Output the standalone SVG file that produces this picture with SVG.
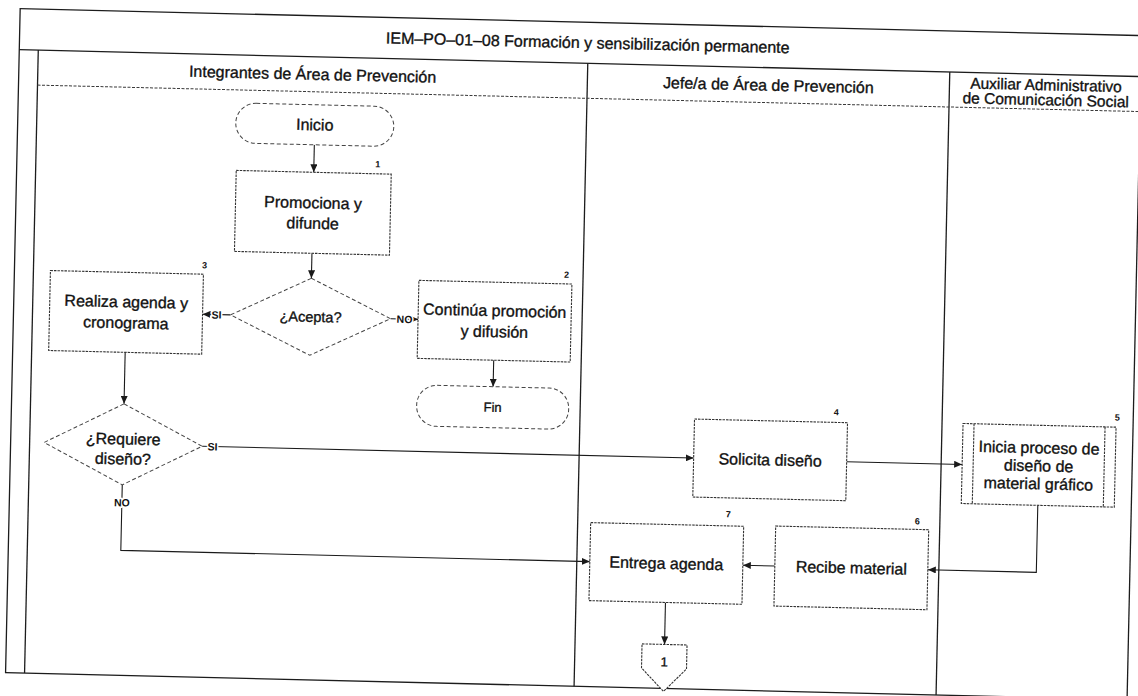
<svg xmlns="http://www.w3.org/2000/svg" width="1138" height="696" viewBox="0 0 1138 696">
  <defs>
    <marker id="arr" viewBox="0 0 8 7" markerWidth="8" markerHeight="7" refX="8" refY="3.5" orient="auto" markerUnits="userSpaceOnUse">
      <path d="M0,0 L8,3.5 L0,7 Z" fill="#1a1a1a"/>
    </marker>
    <style>
      .frame { fill: none; stroke: #1c1c1c; stroke-width: 1.3; }
      .hsep { fill: none; stroke: #3a3a3a; stroke-width: 1; stroke-dasharray: 3 1.5; }
      .box { fill: #fff; stroke: #333; stroke-width: 1.1; stroke-dasharray: 2.5 1; }
      .dash { fill: #fff; stroke: #444; stroke-width: 1; stroke-dasharray: 4 2.5; }
      .conn { fill: none; stroke: #1a1a1a; stroke-width: 1.1; marker-end: url(#arr); }
      text { font-family: "Liberation Sans", Arial, sans-serif; fill: #111; text-anchor: middle; }
      .t, .hd { font-size: 16px; stroke: #111; stroke-width: 0.35px; }
      .lbl { font-size: 10.5px; font-weight: bold; paint-order: stroke; stroke: #fff; stroke-width: 3px; }
      .num { font-size: 9px; font-weight: bold; }
    </style>
  </defs>

  <rect width="1138" height="696" fill="#fff"/>

  <!-- whole sheet, slightly skewed as on the scanned page -->
  <g transform="matrix(1 0.024 -0.022 1 7.66 -13.66)">

    <!-- table frame -->
    <g id="frame">
      <rect class="frame" x="13" y="22" width="1140" height="664"/>
      <line class="frame" x1="13" y1="63" x2="1153" y2="63"/>
      <line class="frame" x1="32" y1="63" x2="32" y2="686"/>
      <line class="frame" x1="581.5" y1="63" x2="581.5" y2="686"/>
      <line class="frame" x1="943.5" y1="63" x2="943.5" y2="686"/>
      <line class="frame" x1="1134.5" y1="63" x2="1134.5" y2="686"/>
      <line class="hsep" x1="32" y1="98" x2="1134.5" y2="98"/>
      <text class="hd" x="581" y="48">IEM–PO–01–08 Formación y sensibilización permanente</text>
    </g>

    <!-- swimlane headers -->
    <g id="lane-integrantes">
      <text class="hd" x="306.75" y="86">Integrantes de Área de Prevención</text>
    </g>
    <g id="lane-jefe">
      <text class="hd" x="762.5" y="86">Jefe/a de Área de Prevención</text>
    </g>
    <g id="lane-auxiliar">
      <text class="hd" x="1040" y="79" style="font-size:15.5px">Auxiliar Administrativo</text>
      <text class="hd" x="1040" y="94" style="font-size:15.5px">de Comunicación Social</text>
    </g>

    <!-- connectors -->
    <g id="connectors">
      <path class="conn" d="M310,151 V178.5"/>
      <path class="conn" d="M310,259.5 V284.5"/>
      <path class="conn" d="M230,323 H202"/>
      <path class="conn" d="M390,323 H417.5"/>
      <path class="conn" d="M494,362 V388.5"/>
      <path class="conn" d="M125.5,363 V414.5"/>
      <path class="conn" d="M204.5,455 H696"/>
      <path class="conn" d="M125.5,495.5 V561 H594.5"/>
      <path class="conn" d="M849,455 H964.5"/>
      <path class="conn" d="M1041,494 V561 H932.5"/>
      <path class="conn" d="M779.5,561 H747.5"/>
      <path class="conn" d="M671,600 V642"/>
      <text class="lbl" x="216" y="327">SI</text>
      <text class="lbl" x="404" y="327">NO</text>
      <text class="lbl" x="215" y="459">SI</text>
      <text class="lbl" x="125.5" y="517">NO</text>
    </g>

    <!-- nodes -->
    <g id="inicio">
      <rect class="dash" x="231" y="111" width="158" height="40" rx="20"/>
      <text class="t" x="310" y="136.5">Inicio</text>
    </g>
    <g id="paso-1">
      <rect class="box" x="232.5" y="178.5" width="155" height="81"/>
      <text class="num" x="374" y="172">1</text>
      <text class="t" x="310" y="214.5">Promociona y</text>
      <text class="t" x="310" y="235">difunde</text>
    </g>
    <g id="acepta">
      <polygon class="dash" points="310,284.5 390,323 310,361.5 230,323"/>
      <text class="t" x="310" y="328" style="font-size:14.5px">¿Acepta?</text>
    </g>
    <g id="paso-2">
      <rect class="box" x="417.5" y="284" width="153" height="78"/>
      <text class="num" x="565" y="278">2</text>
      <text class="t" x="494" y="318">Continúa promoción</text>
      <text class="t" x="494" y="339">y difusión</text>
    </g>
    <g id="fin">
      <rect class="dash" x="418" y="388.5" width="152" height="41" rx="20"/>
      <text class="t" x="494" y="413.5" style="font-size:13px">Fin</text>
    </g>
    <g id="paso-3">
      <rect class="box" x="49" y="283" width="153" height="80"/>
      <text class="num" x="203" y="277">3</text>
      <text class="t" x="125.5" y="318">Realiza agenda y</text>
      <text class="t" x="125.5" y="339">cronograma</text>
    </g>
    <g id="requiere-diseno">
      <polygon class="dash" points="125.5,414.5 204.5,455 125.5,495.5 46.5,455"/>
      <text class="t" x="125.5" y="455">¿Requiere</text>
      <text class="t" x="125.5" y="475">diseño?</text>
    </g>
    <g id="paso-4">
      <rect class="box" x="696" y="416" width="153" height="78"/>
      <text class="num" x="837.5" y="409">4</text>
      <text class="t" x="772.5" y="460.5">Solicita diseño</text>
    </g>
    <g id="paso-5">
      <rect class="box" x="964.5" y="414" width="153" height="80"/>
      <line class="box" x1="975.5" y1="414" x2="975.5" y2="494"/>
      <line class="box" x1="1106.5" y1="414" x2="1106.5" y2="494"/>
      <text class="num" x="1118.5" y="407.5">5</text>
      <text class="t" x="1041" y="442">Inicia proceso de</text>
      <text class="t" x="1041" y="460">diseño de</text>
      <text class="t" x="1041" y="478">material gráfico</text>
    </g>
    <g id="paso-6">
      <rect class="box" x="779.5" y="521" width="153" height="80"/>
      <text class="num" x="921" y="516">6</text>
      <text class="t" x="856" y="566.5">Recibe material</text>
    </g>
    <g id="paso-7">
      <rect class="box" x="594.5" y="522" width="153" height="78"/>
      <text class="num" x="732" y="513.5">7</text>
      <text class="t" x="671" y="566.5">Entrega agenda</text>
    </g>
    <g id="conector-1">
      <path class="box" d="M648.5,642 H693.5 V666 L671,689 L648.5,666 Z"/>
      <text class="t" x="671" y="664" style="font-size:13px">1</text>
    </g>
  </g>
</svg>
